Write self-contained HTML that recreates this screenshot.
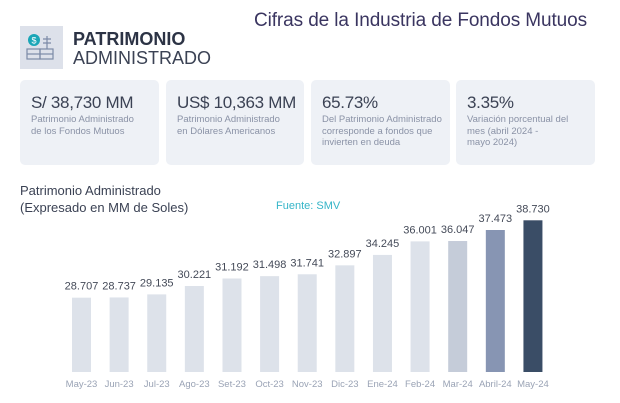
<!DOCTYPE html>
<html><head><meta charset="utf-8"><style>
*{margin:0;padding:0;box-sizing:border-box}
body{width:620px;height:403px;background:#fff;font-family:"Liberation Sans",sans-serif;position:relative;overflow:hidden}
.abs{position:absolute}
.card{position:absolute;top:80px;height:85px;background:#eef1f6;border-radius:5px}
.big{position:absolute;left:11px;top:13px;font-size:17px;color:#3b4254;white-space:nowrap;letter-spacing:-0.3px}
.small{position:absolute;left:11px;top:34px;font-size:9.5px;line-height:11.5px;color:#8a92a6}
</style></head><body>
<div class="abs" style="left:254px;top:10px;font-size:19px;color:#3a3560;white-space:nowrap;letter-spacing:-0.1px">Cifras de la Industria de Fondos Mutuos</div>
<div class="abs" style="left:20px;top:26px;width:43px;height:43px;background:#dde1ea">
<svg width="43" height="43"><circle cx="14" cy="14" r="6" fill="#1aa6b7"/><text x="14" y="17.5" font-size="9" fill="#fff" text-anchor="middle" font-family="Liberation Sans">$</text><g stroke="#7c8aa6" fill="none" stroke-width="1.2"><rect x="7" y="23" width="13" height="10"/><line x1="7" y1="28" x2="20" y2="28"/><rect x="20" y="23" width="13" height="10"/><line x1="20" y1="28" x2="33" y2="28"/><line x1="27" y1="10" x2="27" y2="23"/><path d="M23 13h8M23 17h8"/></g></svg></div>
<div class="abs" style="left:73px;top:30px;font-size:18px;line-height:19px;color:#2c3345"><b>PATRIMONIO</b><br><span style="font-weight:300;color:#3b4254">ADMINISTRADO</span></div>
<div class="card" style="left:20px;width:139px"><div class="big">S/ 38,730 MM</div><div class="small">Patrimonio Administrado<br>de los Fondos Mutuos</div></div>
<div class="card" style="left:166px;width:138px"><div class="big">US$ 10,363 MM</div><div class="small">Patrimonio Administrado<br>en Dólares Americanos</div></div>
<div class="card" style="left:311px;width:139px"><div class="big">65.73%</div><div class="small">Del Patrimonio Administrado<br>corresponde a fondos que<br>invierten en deuda</div></div>
<div class="card" style="left:456px;width:139px"><div class="big">3.35%</div><div class="small">Variación porcentual del<br>mes (abril 2024 -<br>mayo 2024)</div></div>
<div class="abs" style="left:20px;top:182px;font-size:13px;line-height:17px;color:#3b4254">Patrimonio Administrado<br>(Expresado en MM de Soles)</div>
<div class="abs" style="left:276px;top:200px;font-size:11px;color:#35b5c8">Fuente: SMV</div>
<svg id="chart" class="abs" style="left:0;top:0" width="620" height="403"></svg>
<script>
const categories=["May-23","Jun-23","Jul-23","Ago-23","Set-23","Oct-23","Nov-23","Dic-23","Ene-24","Feb-24","Mar-24","Abril-24","May-24"];
const values=[28.707,28.737,29.135,30.221,31.192,31.498,31.741,32.897,34.245,36.001,36.047,37.473,38.730];
const valueLabels=["28.707","28.737","29.135","30.221","31.192","31.498","31.741","32.897","34.245","36.001","36.047","37.473","38.730"];
const colors=["#dde2ea","#dde2ea","#dde2ea","#dde2ea","#dde2ea","#dde2ea","#dde2ea","#dde2ea","#dde2ea","#dde2ea","#c5ccd9","#8795b3","#3a4d66"];
const svg=document.getElementById('chart');const NS='http://www.w3.org/2000/svg';
const base=372, v0=19.08, k=7.72;
function y(v){return base-(v-v0)*k;}
function xc(i){return 81.5+i*37.62;}
categories.forEach((c,i)=>{
 const r=document.createElementNS(NS,'rect');
 r.setAttribute('x',xc(i)-9.5);r.setAttribute('y',y(values[i]));r.setAttribute('width',19);r.setAttribute('height',base-y(values[i]));r.setAttribute('fill',colors[i]);
 
 
 svg.appendChild(r);
 const t=document.createElementNS(NS,'text');
 t.setAttribute('x',xc(i));t.setAttribute('y',y(values[i])-8);t.setAttribute('text-anchor','middle');t.setAttribute('font-size','11');t.setAttribute('fill','#444a58');t.setAttribute('font-family','Liberation Sans');t.textContent=valueLabels[i];
 
 
 svg.appendChild(t);
 const l=document.createElementNS(NS,'text');
 l.setAttribute('x',xc(i));l.setAttribute('y',387);l.setAttribute('text-anchor','middle');l.setAttribute('font-size','9.5');l.setAttribute('fill','#9aa3b5');l.setAttribute('font-family','Liberation Sans');l.textContent=c;
 
 
 svg.appendChild(l);
});
</script>
</body></html>
